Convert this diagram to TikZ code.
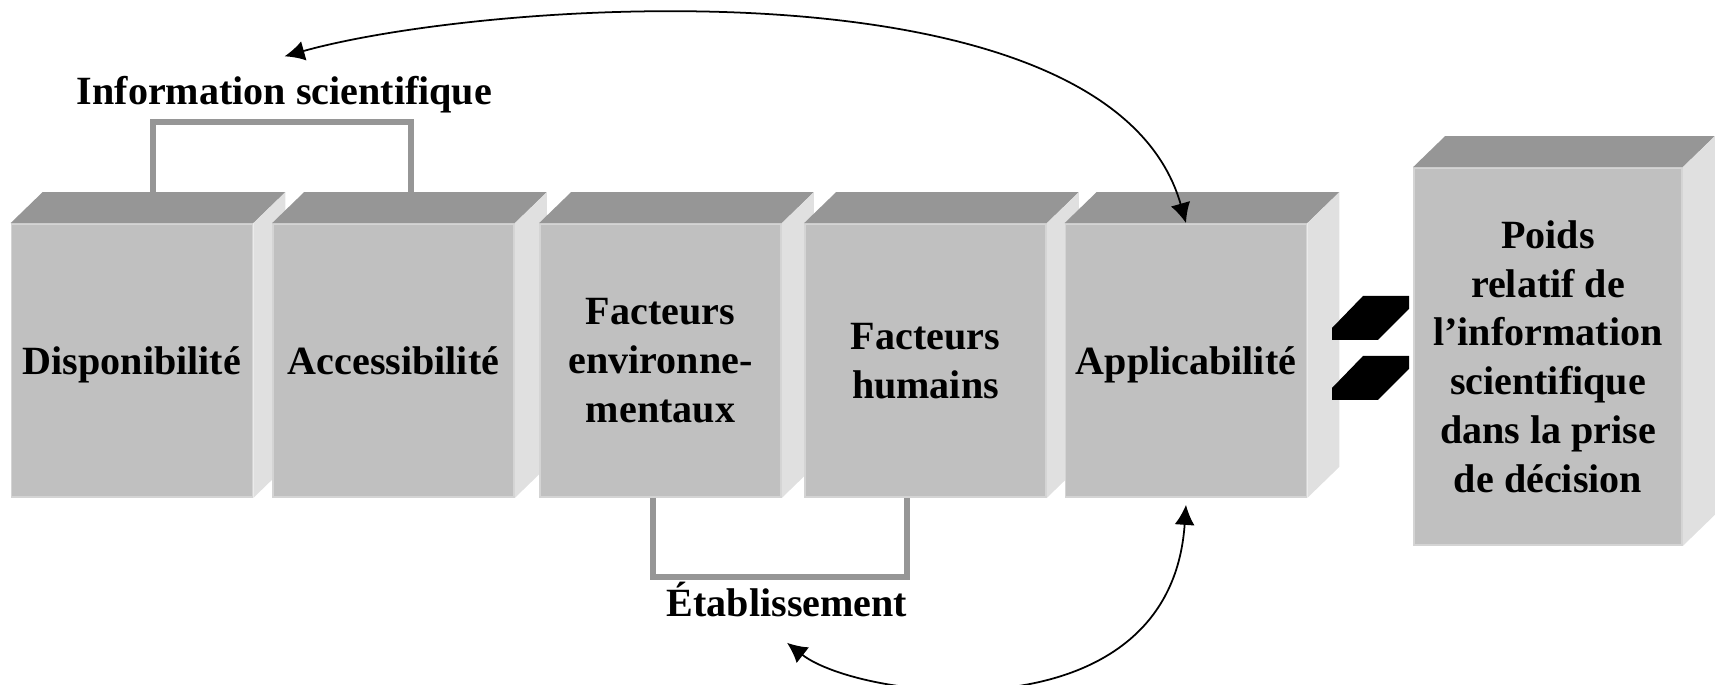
\documentclass[tikz,border=0pt]{standalone}
\usepackage{fontspec}
\setmainfont{Liberation Serif}
\usetikzlibrary{arrows.meta,calc}
\definecolor{boxfront}{RGB}{192,192,192}
\definecolor{boxtop}{RGB}{150,150,150}
\definecolor{boxside}{RGB}{224,224,224}
\definecolor{boxedge}{RGB}{212,212,212}
\definecolor{linkgray}{RGB}{150,150,150}
\begin{document}
\begin{tikzpicture}[>={Latex[length=2mm,width=2mm]},
  cube/.style={draw=boxedge, line width=0.5pt, fill=boxfront, minimum width=2.41cm, minimum height=2.73cm, inner sep=0pt, align=center, text depth=0pt, font=\fontsize{11.4}{13.9}\selectfont\bfseries},
  heading/.style={font=\fontsize{11.4}{13.9}\selectfont\bfseries},
  link/.style={draw=linkgray, line width=1.7pt},
  curved/.style={<->, line width=0.5pt}]
\useasboundingbox (0,0) rectangle (17.16,6.85);
% boxes, left to right, each with its top and side face
\foreach \nm/\xc/\txt in {dispo/1.32/Disponibilité, acces/3.935/Accessibilité, envir/6.605/{Facteurs\\environne-\\mentaux}, humains/9.255/{Facteurs\\humains}, applic/11.86/Applicabilité}{
  \node[cube] (\nm) at (\xc,3.245) {\txt};
  \fill[boxtop] (\nm.north west) -- ++(0.32,0.31) -- ($(\nm.north east)+(0.32,0.31)$) -- (\nm.north east) -- cycle;
  \fill[boxside] (\nm.north east) -- ++(0.32,0.31) -- ($(\nm.south east)+(0.32,0.31)$) -- (\nm.south east) -- cycle;
}
\node[cube, minimum width=2.68cm, minimum height=3.77cm] (poids) at (15.48,3.285) {Poids\\relatif de\\l'information\\scientifique\\dans la prise\\de décision};
\fill[boxtop] (poids.north west) -- ++(0.32,0.31) -- ($(poids.north east)+(0.32,0.31)$) -- (poids.north east) -- cycle;
\fill[boxside] (poids.north east) -- ++(0.32,0.31) -- ($(poids.south east)+(0.32,0.31)$) -- (poids.south east) -- cycle;
% equals sign
\foreach \dy in {0,0.6}
  \fill (13.32,{3.45-\dy}) -- (13.32,{3.57-\dy}) -- (13.63,{3.89-\dy}) -- (14.09,{3.89-\dy}) -- (14.09,{3.76-\dy}) -- (13.78,{3.45-\dy}) -- cycle;
\node[heading, anchor=base] (info) at (2.845,5.80) {Information scientifique};
\node[heading, anchor=base] (etab) at (7.87,0.68) {Établissement};
\draw[link] ($(dispo.north)+(0.21,0.31)$) -- ++(0,0.70) -| ($(acces.north)+(0.175,0.31)$);
\draw[link] ($(envir.south)+(-0.075,0)$) -- ++(0,-0.79) -| ($(humains.south)+(-0.185,0)$);
\draw[curved] ([yshift=0.8mm]info.north) .. controls (4.85,6.85) and (11.10,7.30) .. (applic.north);
\draw[curved] ([yshift=-1.3mm]etab.south) .. controls (8.60,-0.15) and (11.70,-0.55) .. ([yshift=-0.7mm]applic.south);
\end{tikzpicture}
\end{document}
